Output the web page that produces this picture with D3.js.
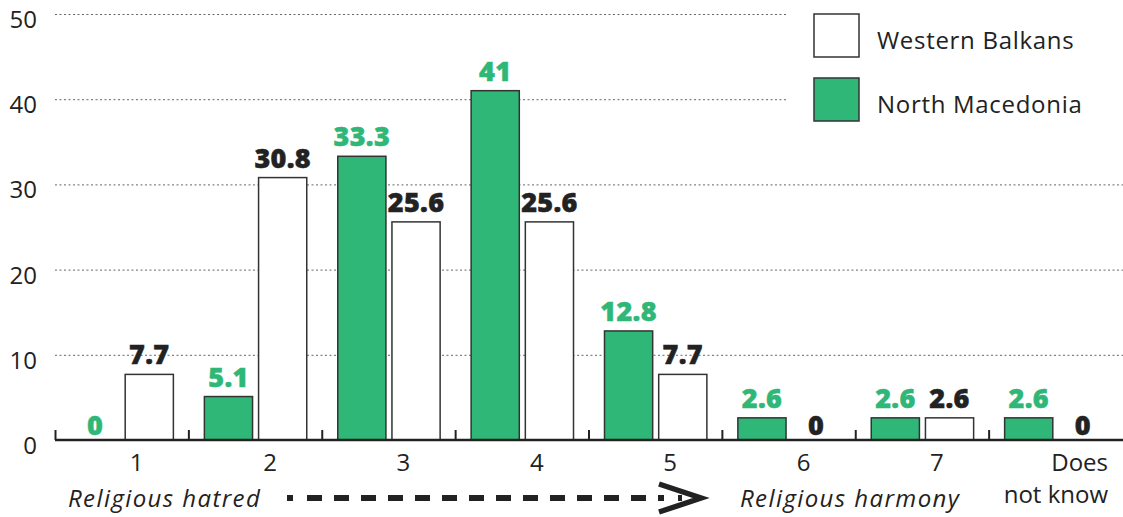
<!DOCTYPE html>
<html>
<head>
<meta charset="utf-8">
<script src="https://cdn.jsdelivr.net/npm/d3@7"></script>
<style>
  html, body { margin: 0; padding: 0; background: #fff; }
  svg { display: block; }
</style>
</head>
<body>
<svg id="chart" width="1123" height="517"></svg>
<script>
// Scale positions 1–7 plus "does not know"
const categories = ["1", "2", "3", "4", "5", "6", "7", "Does|not know"];
const seriesNames = ["North Macedonia", "Western Balkans"];
const northMacedonia = [0, 5.1, 33.3, 41, 12.8, 2.6, 2.6, 2.6];
const westernBalkans = [7.7, 30.8, 25.6, 25.6, 7.7, 0, 2.6, 0];
const yTicks = [0, 10, 20, 30, 40, 50];

const GREEN = "#2fb777";
const DARK = "#222";
const FONT = "'Open Sans', 'Noto Sans', sans-serif";

const svg = d3.select("#chart");

const x0 = d3.scaleBand().domain(categories).range([55, 1122]).padding(0);
const x1 = d3.scaleBand().domain(seriesNames)
  .range([16, x0.bandwidth() - 15]).paddingInner(1 / 9).paddingOuter(0);
const y = d3.scaleLinear().domain([0, 50]).range([440, 14]);

const fills = { "North Macedonia": GREEN, "Western Balkans": "#fff" };
const labelColors = { "North Macedonia": GREEN, "Western Balkans": DARK };

const rows = categories.map((c, i) => ({
  cat: c,
  values: [
    { series: "North Macedonia", v: northMacedonia[i] },
    { series: "Western Balkans", v: westernBalkans[i] }
  ]
}));

// dotted gridlines
svg.append("g").selectAll("line")
  .data(yTicks.filter(d => d > 0))
  .join("line")
  .attr("x1", 55).attr("x2", 1123)
  .attr("y1", d => y(d) + 0.5).attr("y2", d => y(d) + 0.5)
  .attr("stroke", "#666").attr("stroke-width", 1)
  .attr("stroke-dasharray", "2,2.5");

// y tick labels
svg.append("g").selectAll("text")
  .data(yTicks)
  .join("text")
  .attr("x", 37).attr("y", d => y(d) + 14)
  .attr("text-anchor", "end")
  .attr("font-family", FONT).attr("font-size", 24)
  .attr("fill", DARK)
  .text(d => d);

// legend panel covers the grid on the right
svg.append("rect").attr("x", 786).attr("y", 0).attr("width", 337).attr("height", 135).attr("fill", "#fff");

// bars
const groups = svg.append("g").selectAll("g")
  .data(rows)
  .join("g")
  .attr("transform", d => `translate(${x0(d.cat)},0)`);

groups.selectAll("rect")
  .data(d => d.values)
  .join("rect")
  .attr("x", d => x1(d.series))
  .attr("width", x1.bandwidth())
  .attr("y", d => y(d.v))
  .attr("height", d => y(0) - y(d.v))
  .attr("fill", d => fills[d.series])
  .attr("stroke", "#333")
  .attr("stroke-width", 1.5);

groups.selectAll("text")
  .data(d => d.values)
  .join("text")
  .attr("x", d => x1(d.series) + x1.bandwidth() / 2)
  .attr("y", d => y(d.v) - (d.v === 0 ? 5 : 10))
  .attr("text-anchor", "middle")
  .attr("font-family", FONT).attr("font-weight", 800).attr("font-size", 27)
  .attr("letter-spacing", 0.3)
  .attr("stroke", d => labelColors[d.series]).attr("stroke-width", 0.5)
  .attr("fill", d => labelColors[d.series])
  .text(d => d.v);

// baseline with boundary ticks
svg.append("line")
  .attr("x1", 55).attr("x2", 1123).attr("y1", y(0)).attr("y2", y(0))
  .attr("stroke", DARK).attr("stroke-width", 2.5);
svg.append("g").selectAll("line")
  .data(categories)
  .join("line")
  .attr("x1", d => x0(d) + 0.5).attr("x2", d => x0(d) + 0.5)
  .attr("y1", y(0)).attr("y2", y(0) - 10)
  .attr("stroke", DARK).attr("stroke-width", 2);

// category labels (multi-line labels are right-aligned inside the band)
const catLabels = svg.append("g").selectAll("text")
  .data(categories)
  .join("text")
  .attr("y", 471)
  .attr("font-family", FONT).attr("font-size", 24)
  .attr("fill", DARK);
catLabels.each(function (d) {
  const parts = d.split("|");
  const t = d3.select(this);
  const multi = parts.length > 1;
  t.attr("text-anchor", multi ? "end" : "middle");
  parts.forEach((p, i) => {
    t.append("tspan")
      .attr("x", multi ? x0(d) + x0.bandwidth() - 14 : x0(d) + x0.bandwidth() / 2 + 15)
      .attr("dy", i === 0 ? 0 : 32).text(p);
  });
});

// scale direction annotation
svg.append("text").attr("x", 68).attr("y", 507)
  .attr("font-family", FONT).attr("font-style", "italic").attr("font-size", 24)
  .attr("letter-spacing", 1.4)
  .attr("fill", DARK).text("Religious hatred");
svg.append("text").attr("x", 740).attr("y", 507)
  .attr("font-family", FONT).attr("font-style", "italic").attr("font-size", 24)
  .attr("letter-spacing", 1.4)
  .attr("fill", DARK).text("Religious harmony");
svg.append("line")
  .attr("x1", 287).attr("x2", 682).attr("y1", 498).attr("y2", 498)
  .attr("stroke", DARK).attr("stroke-width", 6)
  .attr("stroke-dasharray", "6,14,15,12,15,12,15,12,15,12,15,12,15,12,15,12,15,12,15,12,15,12,15,12,15,12,15,12");
svg.append("path")
  .attr("d", "M659,484 L701,498 L659,512")
  .attr("fill", "none").attr("stroke", DARK).attr("stroke-width", 5.5)
  .attr("stroke-linejoin", "miter");

// legend
const legendItems = [
  { name: "Western Balkans", fill: "#fff" },
  { name: "North Macedonia", fill: GREEN }
];
const lg = svg.append("g").selectAll("g")
  .data(legendItems)
  .join("g")
  .attr("transform", (d, i) => `translate(814,${14 + i * 64})`);
lg.append("rect").attr("width", 45).attr("height", 43)
  .attr("fill", d => d.fill).attr("stroke", "#333").attr("stroke-width", 1.5);
lg.append("text").attr("x", 63).attr("y", 35)
  .attr("font-family", FONT).attr("font-size", 24).attr("letter-spacing", 0.7)
  .attr("fill", DARK)
  .text(d => d.name);
</script>
</body>
</html>
